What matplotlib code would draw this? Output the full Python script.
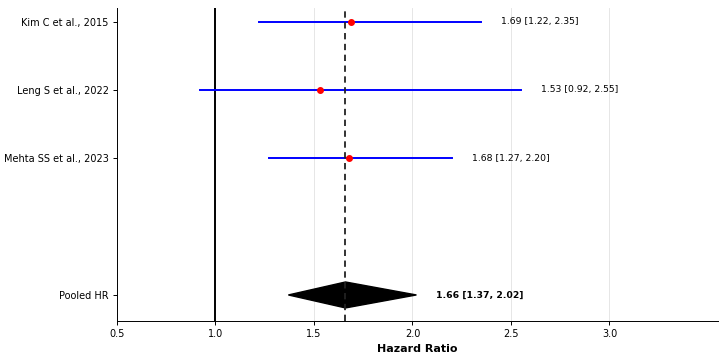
import matplotlib
matplotlib.use("Agg")
import matplotlib.pyplot as plt
from matplotlib.patches import Polygon

studies = ["Kim C et al., 2015", "Leng S et al., 2022", "Mehta SS et al., 2023"]
hr = [1.69, 1.53, 1.68]
lower = [1.22, 0.92, 1.27]
upper = [2.35, 2.55, 2.20]
pooled_label = "Pooled HR"
pooled_hr = 1.66
pooled_lower = 1.37
pooled_upper = 2.02
ypos = [4, 3, 2]
pooled_y = 0
xticks = [0.5, 1.0, 1.5, 2.0, 2.5, 3.0]

fig = plt.figure(figsize=(7.28, 3.61), dpi=100)
ax = fig.add_axes([0.1607, 0.111, 0.8253, 0.867])

for x in xticks:
    ax.axvline(x, color="#e6e6e6", lw=0.7, zorder=0)

for y, h, lo, up in zip(ypos, hr, lower, upper):
    ax.plot([lo, up], [y, y], color="blue", lw=1.4, zorder=2)
    ax.plot(h, y, "o", color="red", ms=4, zorder=3)
    ax.text(up + 0.1, y, f"{h:.2f} [{lo:.2f}, {up:.2f}]", va="center", ha="left", fontsize=6.7)

dia = Polygon([[pooled_lower, pooled_y], [pooled_hr, pooled_y + 0.19],
               [pooled_upper, pooled_y], [pooled_hr, pooled_y - 0.19]],
              closed=True, color="black", zorder=2)
ax.add_patch(dia)
ax.text(pooled_upper + 0.1, pooled_y, f"{pooled_hr:.2f} [{pooled_lower:.2f}, {pooled_upper:.2f}]",
        va="center", ha="left", fontsize=6.7, fontweight="bold")

ax.axvline(1.0, color="black", lw=1.4, zorder=1)
ax.axvline(pooled_hr, color="#222222", lw=1.3, ls=(0, (3.5, 2.5)), zorder=4)

ax.set_yticks(ypos + [pooled_y])
ax.set_yticklabels(studies + [pooled_label], fontsize=7.0)
ax.set_xticks(xticks)
ax.set_xticklabels([f"{x:.1f}" for x in xticks], fontsize=7.0)
ax.tick_params(length=2.6, width=0.7)
ax.set_xlim(0.5, 3.55)
ax.set_ylim(-0.38, 4.2)
ax.set_xlabel("Hazard Ratio", fontsize=8, fontweight="bold", labelpad=3)
ax.spines["top"].set_visible(False)
ax.spines["right"].set_visible(False)
for s in ("left", "bottom"):
    ax.spines[s].set_linewidth(0.7)

fig.savefig("out.png", dpi=100)
